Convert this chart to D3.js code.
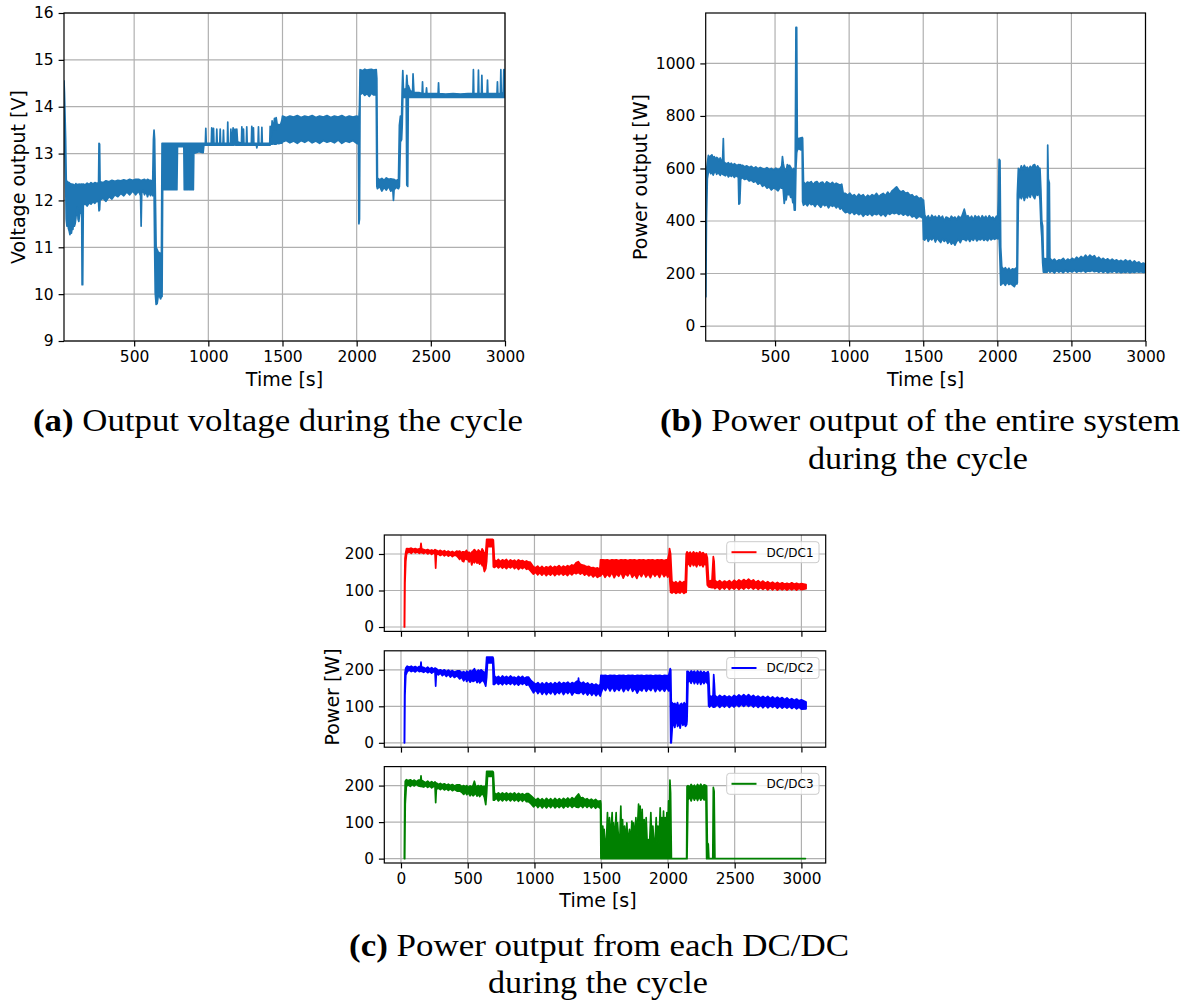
<!DOCTYPE html>
<html><head><meta charset="utf-8">
<script src="https://cdn.jsdelivr.net/npm/d3@7"></script>
<style>body{margin:0;background:#fff}</style>
</head><body>
<svg id="c" width="1186" height="1001" xmlns="http://www.w3.org/2000/svg"></svg>
<script>
// ---- DATA: each row = [time (s), min value, max value] of the recorded trace in that time bin ----
const voltageOutput = [
[27,13.3,14.55],[30,13.2,14.3],[34,12.9,13.8],[38,12.4,13.3],[42,11.6,12.45],[47,11.45,12.38],[52,11.55,12.4],[57,11.4,12.33],
[62,11.35,12.38],[67,11.27,12.3],[72,11.35,12.36],[77,11.3,12.3],[82,11.42,12.35],[87,11.38,12.3],[92,11.55,12.34],[97,11.45,12.3],
[102,11.5,12.32],[107,11.62,12.36],[112,11.78,12.33],[117,11.85,12.3],[122,11.6,12.35],[127,11.55,12.32],[132,11.7,12.35],
[137,11.75,12.3],[142,11.85,12.35],[146,11.9,12.34],[149,10.2,12.35],[153,10.2,12.3],[157,11.9,12.35],[170,11.93,12.33],
[183,11.88,12.37],[196,11.95,12.34],[209,11.92,12.38],[222,11.97,12.35],[235,11.94,12.38],[248,11.99,12.36],[260,11.96,12.38],
[263,11.78,13.22],[267,11.8,13.2],[270,12.0,12.4],[290,12.05,12.38],[310,11.98,12.42],[330,12.08,12.4],[350,12.03,12.43],
[370,12.12,12.41],[390,12.08,12.43],[410,12.15,12.42],[430,12.1,12.44],[450,12.18,12.42],[470,12.12,12.45],[490,12.2,12.43],
[510,12.12,12.45],[530,12.2,12.45],[543,12.1,12.43],[547,11.45,12.43],[551,12.15,12.43],[560,12.22,12.44],[570,12.12,12.45],
[580,12.2,12.42],[590,12.08,12.45],[600,12.18,12.43],[610,12.1,12.43],[618,12.2,12.42],[625,12.1,12.4],[630,12.2,13.3],
[634,12.3,13.5],[638,11.0,13.3],[642,10.03,12.3],[648,9.78,11.0],[655,9.8,10.95],[662,9.96,10.9],[670,9.96,10.88],
[678,9.9,10.85],[684,9.95,10.9],[688,9.95,13.22],[692,12.23,13.22],[788,12.23,13.22],[792,13.15,13.22],[835,13.15,13.22],
[838,12.23,13.22],[859,12.23,13.22],[862,13.15,13.22],[866,13.15,13.22],[869,12.23,13.22],[899,12.23,13.22],[902,13.0,13.22],
[935,13.04,13.22],[965,13.02,13.22],[970,13.18,13.22],[980,13.18,13.22],[983,13.18,13.54],[986,13.18,13.22],[1020,13.18,13.22],[1023,13.18,13.55],
[1026,13.18,13.22],[1032,13.18,13.22],[1035,13.18,13.54],[1038,13.18,13.22],[1054,13.18,13.22],[1057,13.18,13.52],[1060,13.18,13.22],
[1077,13.18,13.22],[1080,13.18,13.52],[1083,13.18,13.22],[1099,13.18,13.22],[1102,13.18,13.5],[1105,13.18,13.22],[1128,13.18,13.22],
[1131,13.18,13.67],[1134,13.18,13.22],[1149,13.18,13.22],[1152,13.18,13.52],[1155,13.18,13.22],[1160,13.18,13.3],[1167,13.18,13.55],
[1172,13.18,13.4],[1180,13.2,13.52],[1185,13.18,13.3],[1192,13.18,13.52],[1197,13.18,13.25],[1223,13.18,13.22],[1226,13.18,13.57],
[1229,13.18,13.22],[1234,13.18,13.22],[1237,13.18,13.52],[1240,13.18,13.22],[1256,13.18,13.22],[1259,13.18,13.57],[1262,13.18,13.22],
[1290,13.18,13.22],[1293,13.18,13.58],[1296,13.18,13.22],[1301,13.18,13.22],[1304,13.18,13.55],[1307,13.18,13.22],[1324,13.18,13.22],
[1327,13.12,13.2],[1330,13.18,13.22],[1335,13.18,13.22],[1338,13.18,13.57],[1341,13.18,13.22],[1358,13.18,13.22],[1361,13.18,13.56],
[1364,13.18,13.22],[1400,13.18,13.22],[1414,13.18,13.22],[1417,13.18,13.58],[1420,13.2,13.35],[1425,13.2,13.4],[1430,13.2,13.7],
[1438,13.21,13.5],[1446,13.2,13.75],[1452,13.21,13.5],[1457,13.2,13.77],[1465,13.22,13.6],[1475,13.21,13.62],[1485,13.22,13.6],
[1495,13.22,13.7],[1500,13.25,13.8],[1525,13.28,13.77],[1550,13.23,13.8],[1575,13.27,13.78],[1600,13.22,13.81],[1625,13.28,13.77],
[1650,13.24,13.8],[1675,13.29,13.78],[1700,13.23,13.81],[1725,13.27,13.77],[1750,13.22,13.8],[1775,13.28,13.78],[1800,13.24,13.81],
[1825,13.27,13.77],[1850,13.23,13.8],[1875,13.29,13.78],[1900,13.22,13.81],[1925,13.27,13.77],[1950,13.24,13.8],[1975,13.28,13.78],
[2000,13.22,13.8],[2012,13.2,13.78],[2015,11.5,13.75],[2019,11.6,14.0],[2023,14.25,14.79],[2040,14.3,14.77],[2055,14.24,14.8],
[2070,14.28,14.78],[2085,14.22,14.79],[2100,14.29,14.8],[2115,14.25,14.78],[2132,14.25,14.79],[2136,12.3,14.6],[2140,12.25,12.48],
[2155,12.3,12.44],[2170,12.2,12.47],[2185,12.28,12.43],[2200,12.22,12.48],[2215,12.3,12.45],[2230,12.2,12.46],[2244,12.22,12.45],
[2248,12.0,12.45],[2252,12.22,12.45],[2265,12.28,12.42],[2282,12.25,12.45],[2288,12.3,13.6],
[2295,13.25,13.8],[2303,13.3,13.8],[2307,13.6,14.4],[2311,14.2,14.77],[2315,14.2,14.4],[2325,14.2,14.35],[2334,14.2,14.4],
[2338,12.33,14.67],[2344,12.3,14.4],[2348,14.2,14.45],[2360,14.2,14.35],[2377,14.2,14.3],[2380,14.2,14.7],[2386,14.2,14.3],
[2420,14.2,14.3],[2441,14.2,14.28],[2444,14.2,14.53],[2447,14.2,14.28],[2468,14.2,14.28],[2471,14.2,14.4],[2474,14.2,14.28],
[2510,14.2,14.28],[2549,14.2,14.28],[2552,14.2,14.51],[2555,14.2,14.28],[2600,14.2,14.27],[2650,14.2,14.28],[2700,14.2,14.27],
[2750,14.2,14.28],[2784,14.2,14.28],[2787,14.2,14.79],[2790,14.2,14.28],[2818,14.2,14.28],[2821,14.2,14.78],[2824,14.2,14.28],
[2841,14.2,14.28],[2844,14.2,14.67],[2847,14.2,14.28],[2879,14.2,14.28],[2882,14.2,14.57],[2885,14.2,14.28],[2946,14.2,14.28],
[2949,14.2,14.53],[2952,14.2,14.28],[2969,14.2,14.28],[2972,14.2,14.79],[2975,14.2,14.28],[2988,14.2,14.3],[2992,14.2,14.79],
[2997,14.2,14.5],[3000,14.2,14.79]
];
const powerOutput = [
[30,112,300],[33,112,420],[37,400,590],[43,560,620],[50,585,650],[58,590,640],[66,580,648],[74,588,652],[82,575,640],[90,585,645],
[98,590,636],[106,578,642],[114,586,638],[122,580,630],[130,574,640],[138,583,628],[146,578,632],[151,580,714],[155,575,625],
[165,572,620],[175,580,618],[185,568,622],[195,575,615],[205,570,620],[215,576,612],[225,566,618],[235,573,614],[245,569,610],
[252,572,615],[256,464,612],[262,468,615],[268,560,613],[280,565,612],[295,558,606],[310,562,610],[325,552,604],[340,556,608],
[355,548,600],[370,552,606],[385,540,598],[400,546,604],[415,532,600],[430,538,597],[445,525,603],[460,530,596],[475,518,600],
[490,526,594],[505,522,601],[520,515,596],[535,528,600],[545,525,610],[550,530,645],[555,520,620],[562,467,600],[568,490,598],
[575,480,590],[583,510,615],[590,500,608],[598,505,612],[605,490,605],[612,500,598],[620,470,590],[626,480,600],[630,441,560],
[636,441,600],[641,600,1137],[646,660,1137],[650,670,718],[660,676,712],[670,672,716],[683,670,718],[686,473,715],
[692,460,549],[705,468,540],[718,458,548],[731,470,545],[744,462,550],[757,466,538],[770,455,547],[783,468,550],[796,460,540],
[809,452,546],[822,465,548],[835,458,537],[848,463,549],[861,450,545],[874,462,540],[887,456,547],[900,460,538],[913,450,544],
[926,458,540],[939,445,536],[950,452,540],[960,440,505],[975,432,505],[990,435,498],[1005,428,506],[1020,436,495],[1035,425,500],
[1050,432,490],[1065,424,502],[1080,430,494],[1095,418,500],[1110,428,488],[1125,422,498],[1140,430,492],[1155,420,500],
[1170,428,495],[1185,424,505],[1200,430,492],[1215,420,500],[1230,428,505],[1245,418,496],[1260,430,510],[1275,425,500],
[1290,432,515],[1305,428,522],[1320,432,530],[1335,425,518],[1350,430,510],[1365,422,515],[1380,428,505],[1395,420,508],
[1410,426,498],[1425,415,500],[1440,420,490],[1455,410,495],[1470,418,485],[1485,415,488],[1498,410,480],[1502,330,480],
[1510,327,423],[1522,340,410],[1534,322,420],[1546,335,405],[1558,328,422],[1570,340,412],[1582,320,418],[1594,336,408],
[1606,326,420],[1618,318,410],[1630,333,418],[1642,322,400],[1654,330,415],[1666,315,412],[1678,325,405],[1690,312,418],
[1702,320,410],[1714,308,415],[1726,322,405],[1738,330,418],[1750,318,410],[1762,332,420],[1777,330,445],[1790,325,415],
[1802,336,420],[1814,322,408],[1826,334,418],[1838,326,405],[1850,338,420],[1862,324,412],[1874,332,418],[1886,328,405],
[1898,335,420],[1910,326,410],[1922,333,418],[1934,325,406],[1946,336,420],[1958,328,410],[1970,334,415],[1982,330,405],
[1994,335,418],[2003,332,415],[2007,340,480],[2012,340,635],[2018,250,630],[2023,156,300],[2030,160,226],[2042,165,215],
[2054,155,222],[2066,168,212],[2078,158,220],[2090,162,210],[2102,156,218],[2115,150,215],[2125,162,220],[2132,160,212],
[2135,165,500],[2142,480,600],[2152,500,590],[2162,485,610],[2172,505,595],[2182,478,612],[2192,498,600],[2202,488,605],
[2212,505,595],[2222,490,608],[2232,510,600],[2242,495,612],[2252,485,615],[2262,505,598],[2272,498,610],[2282,510,600],
[2288,480,600],[2294,390,520],[2300,340,400],[2306,240,380],[2311,205,258],[2336,205,255],[2340,210,689],[2344,210,560],
[2351,210,545],[2355,205,258],[2370,210,248],[2385,202,255],[2400,212,245],[2415,205,252],[2430,210,250],[2445,203,258],
[2460,212,246],[2475,205,255],[2490,210,250],[2505,206,258],[2520,212,252],[2535,205,262],[2550,210,255],[2565,207,265],
[2580,212,258],[2595,205,270],[2610,210,260],[2625,208,270],[2640,212,262],[2655,207,268],[2670,210,255],[2685,205,262],
[2700,210,252],[2715,204,258],[2730,210,250],[2745,203,256],[2760,208,248],[2775,205,255],[2790,210,248],[2805,204,252],
[2820,208,246],[2835,203,250],[2850,207,244],[2865,204,252],[2880,208,245],[2895,203,250],[2910,207,240],[2925,204,248],
[2940,208,240],[2955,205,244],[2970,207,235],[2985,204,240],[3000,205,235]
];
const dcdc1 = [
[25,0,0],[27,0,120],[30,120,188],[36,180,205],[42,200,215],[47,203,215],[62,206,214],[77,202,216],[92,207,213],[107,203,215],
[122,206,212],[137,202,214],[145,204,214],[150,204,229],[155,204,214],[170,201,212],[185,205,210],[200,200,212],[215,204,209],
[230,199,211],[245,203,208],[255,200,212],[260,161,210],[265,198,210],[280,200,207],[295,196,210],[310,200,206],[325,195,209],
[340,199,205],[355,194,208],[370,198,204],[385,193,207],[400,197,203],[417,195,208],[430,190,206],[440,185,208],[450,192,203],
[460,181,206],[470,179,206],[480,190,204],[490,185,210],[500,186,203],[510,178,205],[520,188,200],[530,170,205],[540,182,208],
[550,176,212],[560,183,208],[570,175,203],[580,178,211],[590,172,207],[600,180,205],[608,168,214],[615,170,210],[625,152,200],
[635,160,205],[642,180,240],[648,220,240],[688,220,240],[692,165,238],[700,163,184],[715,168,180],[730,162,185],[745,167,179],
[760,161,184],[775,166,181],[790,160,185],[805,166,178],[820,162,184],[835,167,180],[850,160,183],[865,165,178],[880,158,184],
[895,164,180],[910,160,182],[925,165,178],[940,158,181],[955,160,178],[967,155,178],[992,145,165],[1008,150,162],[1024,143,167],
[1040,149,160],[1056,142,166],[1072,148,160],[1088,141,165],[1104,147,162],[1120,142,167],[1136,148,161],[1152,141,166],
[1168,147,163],[1184,143,168],[1200,148,162],[1216,142,167],[1232,147,163],[1248,141,168],[1264,148,165],[1280,143,170],
[1296,149,168],[1312,146,176],[1328,150,179],[1344,145,172],[1360,149,170],[1376,142,168],[1392,147,165],[1408,140,166],
[1424,145,162],[1440,137,163],[1456,143,160],[1472,136,162],[1490,140,158],[1495,140,184],[1512,148,184],[1529,136,183],
[1546,145,184],[1563,138,182],[1580,150,184],[1597,135,183],[1614,146,184],[1631,139,182],[1648,150,184],[1665,134,183],
[1682,147,184],[1699,140,182],[1716,151,184],[1733,136,183],[1750,145,184],[1767,133,182],[1784,148,184],[1801,138,183],
[1818,150,184],[1835,137,182],[1852,146,184],[1869,135,183],[1886,149,184],[1903,139,182],[1920,147,184],[1937,136,183],
[1954,150,184],[1971,138,182],[1988,146,184],[1997,137,182],[2008,140,200],[2012,140,215],[2020,95,200],[2030,93,125],
[2045,97,120],[2060,92,124],[2075,96,118],[2090,93,125],[2105,98,120],[2120,92,124],[2130,95,121],[2137,95,200],[2143,168,206],
[2155,175,200],[2167,166,205],[2179,178,198],[2191,168,206],[2203,174,200],[2215,165,204],[2227,176,199],[2239,168,206],
[2251,173,200],[2263,165,204],[2275,175,198],[2287,168,200],[2295,115,190],[2305,110,125],[2330,108,128],[2340,108,193],
[2346,110,180],[2352,105,128],[2370,110,122],[2388,103,127],[2406,110,121],[2424,104,126],[2442,111,122],[2460,103,127],
[2478,109,121],[2496,104,128],[2514,110,123],[2532,103,129],[2550,109,124],[2568,104,130],[2586,110,125],[2604,105,131],
[2622,110,125],[2640,104,129],[2658,109,122],[2676,103,127],[2694,108,121],[2712,103,126],[2730,108,120],[2748,102,124],
[2766,107,119],[2784,102,123],[2802,107,118],[2820,101,122],[2838,106,118],[2856,102,121],[2874,106,117],[2892,101,120],
[2910,106,117],[2928,102,121],[2946,106,117],[2964,101,120],[2982,106,117],[3000,102,119],[3035,105,116]
];
const dcdc2 = [
[25,0,0],[27,0,130],[30,130,192],[36,185,205],[47,195,210],[62,199,207],[77,195,210],[92,198,206],[107,194,209],[122,199,205],
[137,195,209],[147,196,208],[150,196,221],[153,196,208],[170,193,206],[185,197,203],[200,192,207],[215,196,202],[230,191,206],
[245,195,201],[255,193,205],[260,155,203],[265,190,203],[280,186,198],[295,191,200],[310,184,196],[325,189,200],[340,182,195],
[355,188,199],[370,180,194],[385,186,198],[400,179,193],[420,184,197],[440,175,197],[455,180,192],[470,170,195],[485,178,190],
[492,168,196],[505,175,192],[518,166,198],[530,172,195],[540,168,198],[550,170,203],[560,174,194],[570,165,196],[580,172,199],
[590,164,195],[600,168,200],[612,172,196],[625,165,192],[635,155,195],[642,180,235],[648,219,235],[688,219,235],[692,160,230],
[700,160,183],[715,166,178],[730,160,182],[745,165,176],[760,159,183],[775,166,178],[790,160,182],[805,165,177],[820,160,183],
[835,166,178],[850,159,180],[865,164,176],[880,158,182],[895,164,177],[910,160,182],[925,165,176],[940,158,180],[955,160,180],
[975,148,170],[993,137,165],[1010,145,160],[1026,135,165],[1042,143,158],[1058,133,164],[1074,142,158],[1090,132,165],
[1106,141,160],[1122,134,164],[1138,143,158],[1154,132,165],[1170,140,160],[1186,135,166],[1202,143,160],[1218,132,165],
[1234,141,162],[1250,135,166],[1266,142,160],[1282,131,165],[1298,140,162],[1314,136,168],[1328,135,170],[1330,135,177],
[1333,135,168],[1350,141,162],[1366,133,166],[1382,140,160],[1398,131,164],[1414,139,158],[1430,130,162],[1446,138,157],
[1462,129,161],[1478,137,156],[1493,128,160],[1498,135,185],[1515,152,184],[1532,143,185],[1549,155,183],[1566,142,185],
[1583,153,184],[1600,141,185],[1617,150,183],[1634,143,185],[1651,154,184],[1668,140,185],[1685,151,183],[1702,143,185],
[1719,155,184],[1736,141,185],[1753,150,183],[1770,136,185],[1787,148,184],[1804,142,185],[1821,153,183],[1838,141,185],
[1855,150,184],[1872,143,185],[1889,154,183],[1906,140,185],[1923,151,184],[1940,142,185],[1957,150,183],[1974,141,185],
[1991,152,184],[2005,142,184],[2012,145,195],[2017,145,203],[2021,0,200],[2025,0,110],[2032,38,110],[2042,60,105],[2052,42,108],
[2062,70,100],[2072,45,110],[2082,55,95],[2092,40,105],[2102,65,108],[2112,48,100],[2122,55,110],[2132,45,105],[2140,50,108],
[2143,60,196],[2150,165,196],[2162,172,190],[2174,163,197],[2186,174,192],[2198,162,196],[2210,171,190],[2222,161,197],
[2234,172,191],[2246,160,196],[2258,170,190],[2270,162,195],[2282,170,190],[2300,160,195],[2305,101,190],[2312,98,130],
[2325,104,125],[2338,98,130],[2343,98,187],[2348,100,160],[2352,98,130],[2370,105,124],[2388,97,130],[2406,104,125],
[2424,98,129],[2442,105,124],[2460,97,128],[2478,104,123],[2496,98,130],[2514,105,125],[2532,99,131],[2550,106,126],
[2568,100,132],[2586,106,126],[2604,100,132],[2622,105,125],[2640,98,130],[2658,104,124],[2676,97,128],[2694,103,123],
[2712,96,127],[2730,103,122],[2748,96,127],[2766,102,121],[2784,97,126],[2802,102,120],[2820,95,125],[2838,101,120],
[2856,95,124],[2874,100,118],[2892,95,123],[2910,100,117],[2928,94,121],[2946,99,116],[2964,93,120],[2982,98,115],[3000,92,118],
[3035,93,112]
];
const dcdc3 = [
[25,0,0],[28,0,162],[32,150,212],[40,198,216],[55,202,213],[70,198,216],[85,203,212],[100,199,215],[115,204,211],[130,199,215],
[147,198,215],[150,198,227],[153,198,215],[170,196,211],[185,200,208],[200,195,212],[215,199,207],[230,194,211],[245,198,206],
[255,196,210],[260,153,207],[265,190,207],[280,193,203],[295,189,206],[310,193,202],[325,188,205],[340,192,201],[355,187,204],
[370,191,200],[385,186,203],[400,190,199],[420,185,202],[440,185,202],[455,182,197],[470,176,200],[485,183,196],[492,175,200],
[505,180,195],[518,172,199],[530,178,196],[540,172,200],[550,175,212],[560,180,197],[570,171,198],[580,178,200],[590,170,196],
[600,175,200],[612,178,196],[625,168,198],[635,148,195],[642,180,239],[648,225,239],[688,225,239],[692,160,236],[700,160,180],
[715,166,176],[730,158,180],[745,164,175],[760,158,180],[775,165,176],[790,159,180],[805,164,175],[820,158,179],[835,164,175],
[850,158,180],[865,163,174],[880,157,179],[895,163,175],[910,157,178],[925,163,174],[940,156,178],[955,156,178],[975,150,172],
[993,142,166],[1010,148,160],[1026,140,165],[1042,147,159],[1058,139,164],[1074,146,158],[1090,139,165],[1106,146,159],
[1122,140,164],[1138,147,158],[1154,139,165],[1170,145,159],[1186,140,164],[1202,146,159],[1218,139,165],[1234,146,160],
[1250,141,166],[1266,147,160],[1282,140,167],[1298,146,162],[1314,141,170],[1330,140,177],[1346,146,166],[1362,140,167],
[1378,147,161],[1394,140,164],[1410,146,159],[1426,139,163],[1442,145,158],[1458,138,162],[1474,143,157],[1495,137,158],
[1498,0,150],[1502,0,60],[1512,0,89],[1517,0,45],[1522,0,80],[1530,0,40],[1540,0,55],[1547,0,126],
[1553,0,45],[1562,0,112],[1570,0,50],[1582,0,126],[1587,0,50],[1592,0,98],[1600,0,45],[1612,0,126],[1617,0,55],[1622,0,98],
[1632,0,45],[1640,0,60],[1647,0,144],[1653,0,50],[1660,0,107],[1667,0,40],[1675,0,89],[1684,0,45],[1692,0,98],[1700,0,40],
[1712,0,80],[1720,0,35],[1730,0,103],[1736,0,45],[1742,0,98],[1750,0,50],[1760,0,112],[1767,0,50],[1780,0,149],[1786,0,60],
[1792,0,144],[1798,0,55],[1807,0,135],[1814,0,50],[1822,0,107],[1830,0,45],[1837,0,112],[1845,0,40],[1855,0,52],[1862,0,35],
[1872,0,126],[1879,0,45],[1887,0,89],[1895,0,40],[1905,0,55],[1912,0,112],[1918,0,45],[1925,0,89],[1933,0,40],[1942,0,139],
[1948,0,50],[1955,0,112],[1961,0,45],[1967,0,130],[1973,0,50],[1980,0,112],[1986,0,55],[1992,0,126],[1998,0,60],[2005,0,158],
[2010,0,80],[2015,0,215],[2020,0,180],[2026,0,0],[2140,0,0],[2143,0,198],[2150,160,200],[2162,170,195],[2174,158,203],
[2186,172,196],[2198,160,201],[2210,170,194],[2222,159,203],[2234,171,196],[2246,160,204],[2258,170,195],[2270,161,202],
[2285,162,200],[2290,0,198],[2295,0,43],[2302,0,40],[2307,0,0],[2336,0,0],[2340,0,195],[2346,0,185],[2352,0,0],
[3030,0,0]
];
const timeTicksAB = [500, 1000, 1500, 2000, 2500, 3000];
const timeTicksC = [0, 500, 1000, 1500, 2000, 2500, 3000];
const voltTicks = [9, 10, 11, 12, 13, 14, 15, 16];
const powerTicks = [0, 200, 400, 600, 800, 1000];
const dcTicks = [0, 100, 200];
const dcNames = ["DC/DC1", "DC/DC2", "DC/DC3"];
const dcColors = ["#ff0000", "#0000ff", "#008000"];

// ---- DRAWING ----
const svg = d3.select("#c");
const FONT = "DejaVu Sans";
let clipN = 0;

function panel(o) {
  const g = svg.append("g");
  const x = d3.scaleLinear().domain(o.xDomain).range([o.left, o.right]);
  const y = d3.scaleLinear().domain(o.yDomain).range([o.bottom, o.top]);
  const id = "clip" + (clipN++);
  svg.append("clipPath").attr("id", id).append("rect")
    .attr("x", o.left).attr("y", o.top).attr("width", o.right - o.left).attr("height", o.bottom - o.top);
  g.append("g").selectAll("line").data(o.xTicks).join("line")
    .attr("x1", d => x(d)).attr("x2", d => x(d)).attr("y1", o.top).attr("y2", o.bottom)
    .attr("stroke", "#b0b0b0").attr("stroke-width", 1.2);
  g.append("g").selectAll("line").data(o.yTicks).join("line")
    .attr("y1", d => y(d)).attr("y2", d => y(d)).attr("x1", o.left).attr("x2", o.right)
    .attr("stroke", "#b0b0b0").attr("stroke-width", 1.2);
  const area = d3.area().x(d => x(d[0])).y0(d => y(d[1])).y1(d => y(d[2]));
  g.append("path").datum(o.data).attr("clip-path", `url(#${id})`)
    .attr("d", area).attr("fill", o.color).attr("stroke", o.color)
    .attr("stroke-width", o.lw || 1.8).attr("stroke-linejoin", "round");
  const ax = d3.axisBottom(x).tickValues(o.xTicks).tickSize(5.4).tickPadding(5)
    .tickFormat(o.xLabels ? d3.format("d") : () => "");
  const gx = g.append("g").attr("transform", `translate(0,${o.bottom})`).call(ax);
  const ay = d3.axisLeft(y).tickValues(o.yTicks).tickSize(5.4).tickPadding(5).tickFormat(d3.format("d"));
  const gy = g.append("g").attr("transform", `translate(${o.left},0)`).call(ay);
  [gx, gy].forEach(a => {
    a.select(".domain").remove();
    a.attr("font-family", FONT).attr("font-size", o.tickFont);
    a.selectAll(".tick line").attr("stroke", "#000").attr("stroke-width", 1.2);
    a.selectAll(".tick text").attr("fill", "#000");
  });
  g.append("rect").attr("x", o.left).attr("y", o.top).attr("width", o.right - o.left).attr("height", o.bottom - o.top)
    .attr("fill", "none").attr("stroke", "#000").attr("stroke-width", 1.2);
  return {g, x, y};
}

// (a)
panel({left: 64, right: 505, top: 13, bottom: 341, xDomain: [27, 3000], yDomain: [9, 16],
  xTicks: timeTicksAB, yTicks: voltTicks, xLabels: true, data: voltageOutput, color: "#1f77b4", tickFont: 15.5, lw: 1.7});
svg.append("text").attr("x", 284.5).attr("y", 386).attr("text-anchor", "middle")
  .attr("font-family", FONT).attr("font-size", 19).text("Time [s]");
svg.append("text").attr("transform", "translate(25,177) rotate(-90)").attr("text-anchor", "middle")
  .attr("font-family", FONT).attr("font-size", 19).text("Voltage output [V]");

// (b)
panel({left: 705.7, right: 1145.5, top: 13, bottom: 341, xDomain: [32, 3000], yDomain: [-57, 1192],
  xTicks: timeTicksAB, yTicks: powerTicks, xLabels: true, data: powerOutput, color: "#1f77b4", tickFont: 15.5, lw: 1.7});
svg.append("text").attr("x", 925.6).attr("y", 386).attr("text-anchor", "middle")
  .attr("font-family", FONT).attr("font-size", 19).text("Time [s]");
svg.append("text").attr("transform", "translate(647,177) rotate(-90)").attr("text-anchor", "middle")
  .attr("font-family", FONT).attr("font-size", 19).text("Power output [W]");

// (c)
const tops = [535, 650.8, 766.6];
const dcData = [dcdc1, dcdc2, dcdc3];
tops.forEach((t, i) => {
  panel({left: 384.3, right: 825.7, top: t, bottom: t + 96.4, xDomain: [-125, 3182], yDomain: [-12, 252],
    xTicks: timeTicksC, yTicks: dcTicks, xLabels: i === 2, data: dcData[i], color: dcColors[i], tickFont: 15.3, lw: 1.7});
  const lg = svg.append("g");
  lg.append("rect").attr("x", 726.7).attr("y", t + 6.7).attr("width", 92.3).attr("height", 21).attr("rx", 3)
    .attr("fill", "#fff").attr("fill-opacity", 0.8).attr("stroke", "#cccccc").attr("stroke-width", 1);
  lg.append("line").attr("x1", 731.5).attr("x2", 756.5).attr("y1", t + 17.2).attr("y2", t + 17.2)
    .attr("stroke", dcColors[i]).attr("stroke-width", 2);
  lg.append("text").attr("x", 766.6).attr("y", t + 21.5).attr("font-family", FONT).attr("font-size", 12)
    .attr("fill", "#000").text(dcNames[i]);
});
svg.append("text").attr("x", 598).attr("y", 907).attr("text-anchor", "middle")
  .attr("font-family", FONT).attr("font-size", 19).text("Time [s]");
svg.append("text").attr("transform", "translate(339,697) rotate(-90)").attr("text-anchor", "middle")
  .attr("font-family", FONT).attr("font-size", 19).text("Power [W]");

// captions
function caption(x, y, len, bold, rest) {
  const t = svg.append("text").attr("x", x).attr("y", y).attr("font-family", "Liberation Serif")
    .attr("font-size", 32).attr("fill", "#000").attr("textLength", len).attr("lengthAdjust", "spacingAndGlyphs");
  if (bold) t.append("tspan").attr("font-weight", "bold").text(bold);
  t.append("tspan").text(rest);
}
caption(33, 431, 490, "(a)", " Output voltage during the cycle");
caption(660, 431, 520, "(b)", " Power output of the entire system");
caption(808, 469, 220, null, "during the cycle");
caption(349, 956, 500, "(c)", " Power output from each DC/DC");
caption(488, 993, 220, null, "during the cycle");
</script>
</body></html>
